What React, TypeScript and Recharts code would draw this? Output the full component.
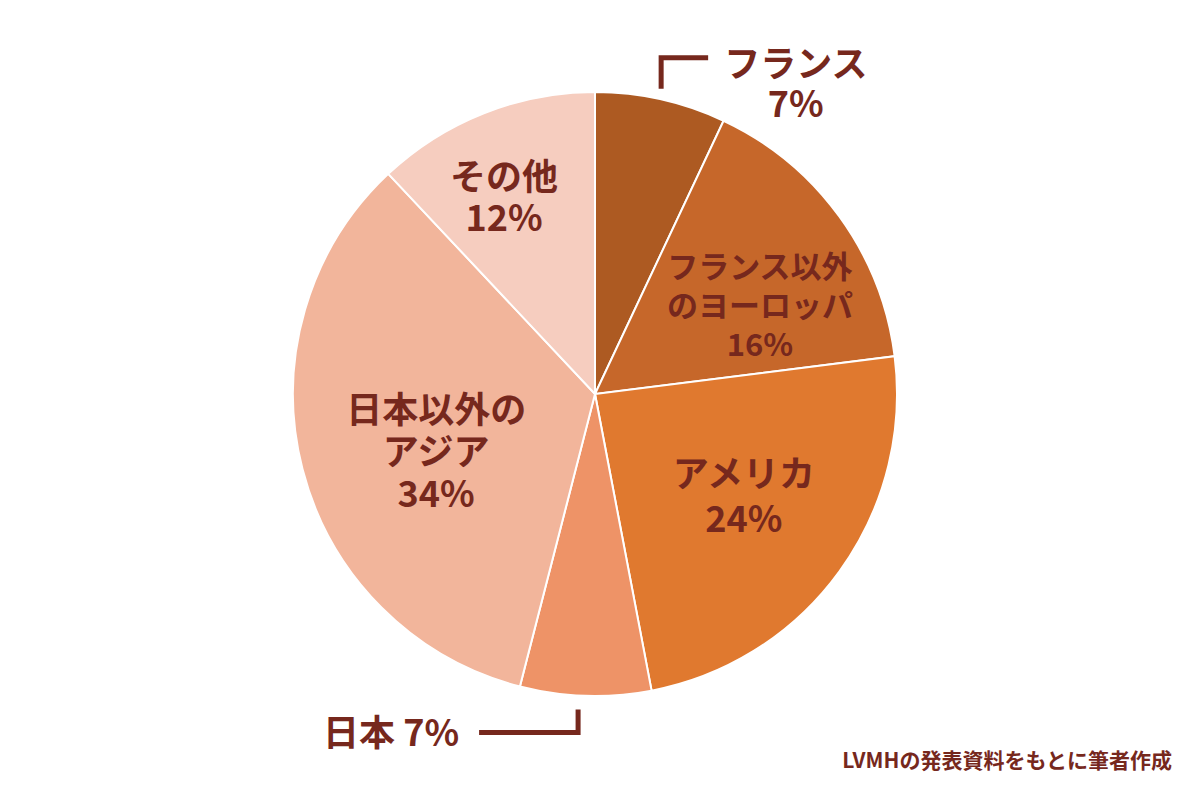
import React from "react";
import { PieChart, Pie, Cell } from "recharts";

const regions = ["フランス", "フランス以外のヨーロッパ", "アメリカ", "日本", "日本以外のアジア", "その他"];
const shares = [7, 16, 24, 7, 34, 12];
const labelLines: string[][] = [
  ["フランス", "7%"],
  ["フランス以外", "のヨーロッパ", "16%"],
  ["アメリカ", "24%"],
  ["日本 7%"],
  ["日本以外の", "アジア", "34%"],
  ["その他", "12%"],
];
const colors = ["#AD5A22", "#C6672A", "#E0792F", "#EE9367", "#F2B59B", "#F6CDBF"];

// label anchor offsets, in units of the outer radius, relative to the pie centre
const labelPos = [
  { dx: 0.665, dy: -1.035, gap: 40, size: 36 },
  { dx: 0.546, dy: -0.3, gap: 39, size: 31 },
  { dx: 0.493, dy: 0.33, gap: 45, size: 36 },
  { dx: -0.675, dy: 1.113, gap: 0, size: 36 },
  { dx: -0.526, dy: 0.182, gap: 42, size: 36 },
  { dx: -0.301, dy: -0.66, gap: 41, size: 36 },
];

const data = regions.map((name, i) => ({ name, value: shares[i] }));

const TEXT = "#76281D";
const FONT = "'Noto Sans CJK JP', 'Noto Sans', sans-serif";

const renderLabel = (props: any) => {
  const { cx, cy, outerRadius, index } = props;
  const p = labelPos[index];
  const x = cx + p.dx * outerRadius;
  const y = cy + p.dy * outerRadius;
  const lines = labelLines[index];
  const n = lines.length;
  const extra: React.ReactNode[] = [];
  if (index === 0) {
    const bx = cx + 0.219 * outerRadius;
    const by = cy - 1.113 * outerRadius;
    extra.push(
      <polyline
        key="b0"
        points={`${bx},${by + 31} ${bx},${by} ${bx + 47},${by}`}
        fill="none"
        stroke={TEXT}
        strokeWidth={5}
      />
    );
  }
  if (index === 3) {
    const bx = cx - 0.056 * outerRadius;
    const by = cy + 1.121 * outerRadius;
    extra.push(
      <polyline
        key="b3"
        points={`${bx - 99},${by} ${bx},${by} ${bx},${by - 23}`}
        fill="none"
        stroke={TEXT}
        strokeWidth={5}
      />
    );
  }
  return (
    <g>
      {extra}
      {lines.map((t, k) => (
        <text
          key={k}
          x={x}
          y={y + (k - (n - 1) / 2) * p.gap}
          textAnchor="middle"
          dominantBaseline="central"
          fill={TEXT}
          fontFamily={FONT}
          fontWeight={700}
          fontSize={p.size}
        >
          {t}
        </text>
      ))}
    </g>
  );
};

export default function App() {
  return (
    <div style={{ position: "absolute", left: 0, top: 0, width: 1200, height: 799, background: "#fff" }}>
      <PieChart width={1200} height={799} margin={{ top: 0, right: 0, bottom: 0, left: 0 }}>
        <Pie
          data={data}
          dataKey="value"
          nameKey="name"
          cx={595}
          cy={394}
          outerRadius={302}
          startAngle={90}
          endAngle={-270}
          stroke="#ffffff"
          strokeWidth={2}
          label={renderLabel}
          labelLine={false}
          isAnimationActive={false}
        >
          {data.map((d, i) => (
            <Cell key={d.name} fill={colors[i]} />
          ))}
        </Pie>
      </PieChart>
      <div
        style={{
          position: "absolute",
          right: 28,
          top: 744,
          fontFamily: FONT,
          fontWeight: 700,
          fontSize: 21,
          color: TEXT,
          whiteSpace: "nowrap",
        }}
      >
        LVMHの発表資料をもとに筆者作成
      </div>
    </div>
  );
}
